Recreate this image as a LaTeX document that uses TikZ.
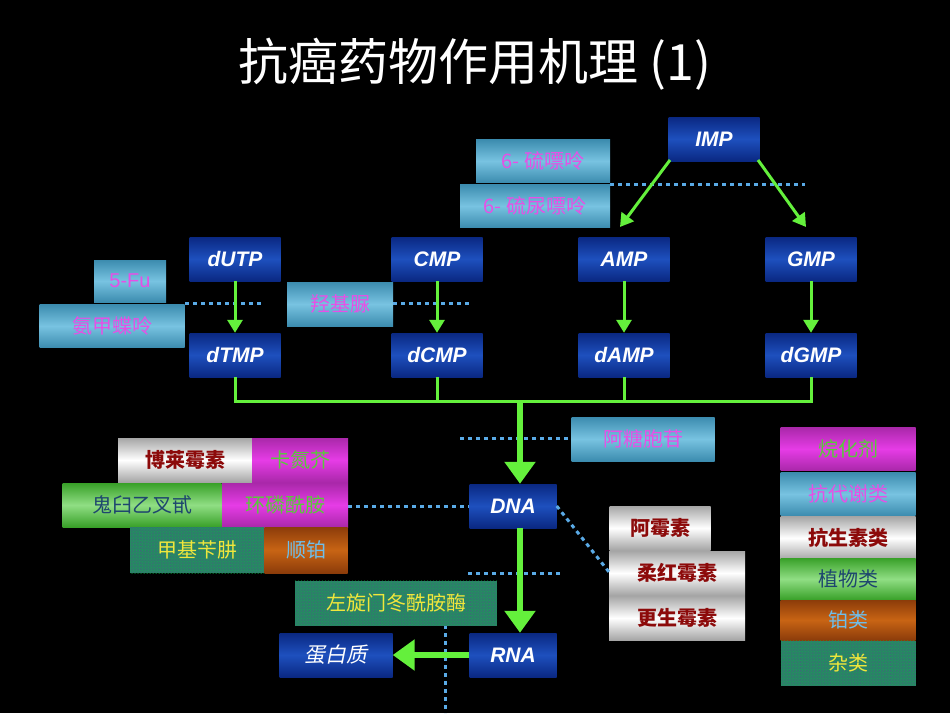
\documentclass[tikz,border=0pt]{standalone}
\usepackage{fontspec}
\setmainfont{Liberation Sans}
\newfontfamily\cjk{Noto Sans CJK SC}
\newfontfamily\cjkit[FakeSlant=0.2]{Noto Sans CJK SC}
\usetikzlibrary{arrows.meta,patterns}
\definecolor{gr}{RGB}{100,240,60}
\definecolor{dotc}{RGB}{90,170,230}
\definecolor{navy}{RGB}{10,40,130}
\definecolor{navyl}{RGB}{30,80,190}
\definecolor{sky}{RGB}{120,195,225}
\definecolor{skyd}{RGB}{60,140,175}
\definecolor{mag}{RGB}{230,60,230}
\definecolor{magd}{RGB}{170,40,170}
\definecolor{dred}{RGB}{140,10,10}
\definecolor{grn}{RGB}{70,200,50}
\definecolor{ora}{RGB}{200,100,20}
\definecolor{orad}{RGB}{140,60,10}
\definecolor{tealc}{RGB}{50,120,110}
\definecolor{txtg}{RGB}{90,200,60}
\definecolor{txtb}{RGB}{30,70,110}
\definecolor{txty}{RGB}{240,230,60}
\definecolor{txtm}{RGB}{230,80,230}
\definecolor{txtc}{RGB}{110,190,235}
\tikzset{
  x=1pt,y=-1pt,
  every node/.style={inner sep=0pt,font=\fontsize{20}{24}\selectfont\cjk},
  nv/.style={top color=navy,bottom color=navy,middle color=navyl,text=white,font=\fontsize{21}{24}\selectfont\bfseries\itshape,minimum width=91,minimum height=44},
  sk/.style={top color=skyd,bottom color=skyd,middle color=sky,text=txtm},
  mg/.style={top color=magd,bottom color=magd,middle color=mag,text=txtg},
  wt/.style={top color=gray!70,bottom color=gray!70,middle color=white,text=dred,font=\fontsize{20}{24}\selectfont\cjk\bfseries},
  gn/.style={top color=grn!80!black,bottom color=grn!80!black,middle color=grn!60!white,text=txtb},
  og/.style={top color=orad,bottom color=orad,middle color=ora,text=txtc},
  tl/.style={fill=tealc,postaction={pattern=crosshatch dots,pattern color=green!50!teal},text=txty},
  ga/.style={draw=gr,line width=3pt,-{Triangle[length=13pt,width=15pt]}},
  gA/.style={draw=gr,line width=6pt,-{Triangle[length=22pt,width=30pt]}},
  gl/.style={draw=gr,line width=3pt},
  dl/.style={draw=dotc,line width=3pt,dash pattern=on 4pt off 4pt},
}
\begin{document}
\begin{tikzpicture}
\fill[black] (0,0) rectangle (950,713);
\node[text=white,font=\fontsize{50}{56}\selectfont\cjk] (title) at (475,64) {抗癌药物作用机理 (1)};
% dotted lines first
\coordinate (d1a) at (610,184); \coordinate (d1b) at (805,184);
\coordinate (d2a) at (185,303); \coordinate (d2b) at (262,303);
\coordinate (d3a) at (393,303); \coordinate (d3b) at (470,303);
\coordinate (d4a) at (460,438); \coordinate (d4b) at (572,438);
\coordinate (d5a) at (348,506); \coordinate (d5b) at (470,506);
\coordinate (d6a) at (468,573); \coordinate (d6b) at (560,573);
\coordinate (d7a) at (445,625); \coordinate (d7b) at (445,713);
\foreach \a/\b in {d1a/d1b,d2a/d2b,d3a/d3b,d4a/d4b,d5a/d5b,d6a/d6b,d7a/d7b} \draw[dl] (\a)--(\b);
% nodes
\node[nv] (IMP) at (714,139) {IMP};
\node[sk,minimum width=134,minimum height=43] (mp) at (543,161) {6- 硫嘌呤};
\node[sk,minimum width=150,minimum height=43] (tg) at (535,206) {6- 硫尿嘌呤};
\node[nv] (dUTP) at (235,259) {dUTP};
\node[nv] (CMP) at (437,259) {CMP};
\node[nv] (AMP) at (624,259) {AMP};
\node[nv] (GMP) at (811,259) {GMP};
\node[nv] (dTMP) at (235,355) {dTMP};
\node[nv] (dCMP) at (437,355) {dCMP};
\node[nv] (dAMP) at (624,355) {dAMP};
\node[nv] (dGMP) at (811,355) {dGMP};
\node[sk,minimum width=72,minimum height=42] (fu) at (130,281) {\fontsize{20}{24}\selectfont\rmfamily 5-Fu};
\node[sk,minimum width=145,minimum height=43] (mtx) at (112,326) {氨甲蝶呤};
\node[sk,minimum width=106,minimum height=44] (hu) at (340,304) {羟基脲};
\node[sk,minimum width=143,minimum height=44] (ara) at (643,439) {阿糖胞苷};
\node[nv,minimum width=87] (DNA) at (513,506) {DNA};
\node[nv,minimum width=87] (RNA) at (513,655) {RNA};
\node[nv,minimum width=113,font=\fontsize{21}{24}\selectfont\cjkit] (pro) at (336,655) {蛋白质};
\node[wt,minimum width=134,minimum height=44] (ble) at (185,460) {博莱霉素};
\node[mg,minimum width=96,minimum height=44] (bcnu) at (300,460) {卡氮芥};
\node[gn,minimum width=159,minimum height=44] (vp) at (142,505) {鬼臼乙叉甙};
\node[mg,minimum width=126,minimum height=44] (ctx) at (285,505) {环磷酰胺};
\node[tl,minimum width=134,minimum height=46] (pcb) at (197,550) {甲基苄肼};
\node[og,minimum width=83,minimum height=46] (ddp) at (306,550) {顺铂};
\node[wt,minimum width=101,minimum height=44] (adr) at (660,528) {阿霉素};
\node[wt,minimum width=136,minimum height=44] (dnr) at (677,573) {柔红霉素};
\node[wt,minimum width=136,minimum height=44] (act) at (677,618) {更生霉素};
\node[tl,minimum width=202,minimum height=45] (asp) at (396,603) {左旋门冬酰胺酶};
% legend
\node[mg,minimum width=135,minimum height=43] (L1) at (848,449) {烷化剂};
\node[sk,minimum width=135,minimum height=43] (L2) at (848,494) {抗代谢类};
\node[wt,minimum width=135,minimum height=43] (L3) at (848,538) {抗生素类};
\node[gn,minimum width=135,minimum height=42] (L4) at (848,579) {植物类};
\node[og,minimum width=135,minimum height=40] (L5) at (848,620) {铂类};
\node[tl,minimum width=135,minimum height=45] (L6) at (848,663) {杂类};
% diagonal dotted
\coordinate (dg) at (609,572);
\draw[dl] (DNA.east) -- (dg);
% green connectors
\coordinate (i1) at (670,160); \coordinate (a1) at (620,227);
\coordinate (i2) at (758,160); \coordinate (g2) at (806,227);
\draw[ga] (i1) -- (a1);
\draw[ga] (i2) -- (g2);
\foreach \a/\b in {dUTP/dTMP,CMP/dCMP,AMP/dAMP,GMP/dGMP} \draw[ga] (\a) -- (\b);
\coordinate (bus) at (520,401);
\draw[gl] (dTMP.south) |- (bus) -| (dGMP.south);
\draw[gl] (dCMP.south) -- (dCMP.south |- bus);
\draw[gl] (dAMP.south) -- (dAMP.south |- bus);
\draw[gA] (bus) -- (bus |- DNA.north);
\draw[gA] (DNA.south -| bus) -- (RNA.north -| bus);
\draw[gA] (RNA.west) -- (pro.east);
\end{tikzpicture}
\end{document}
